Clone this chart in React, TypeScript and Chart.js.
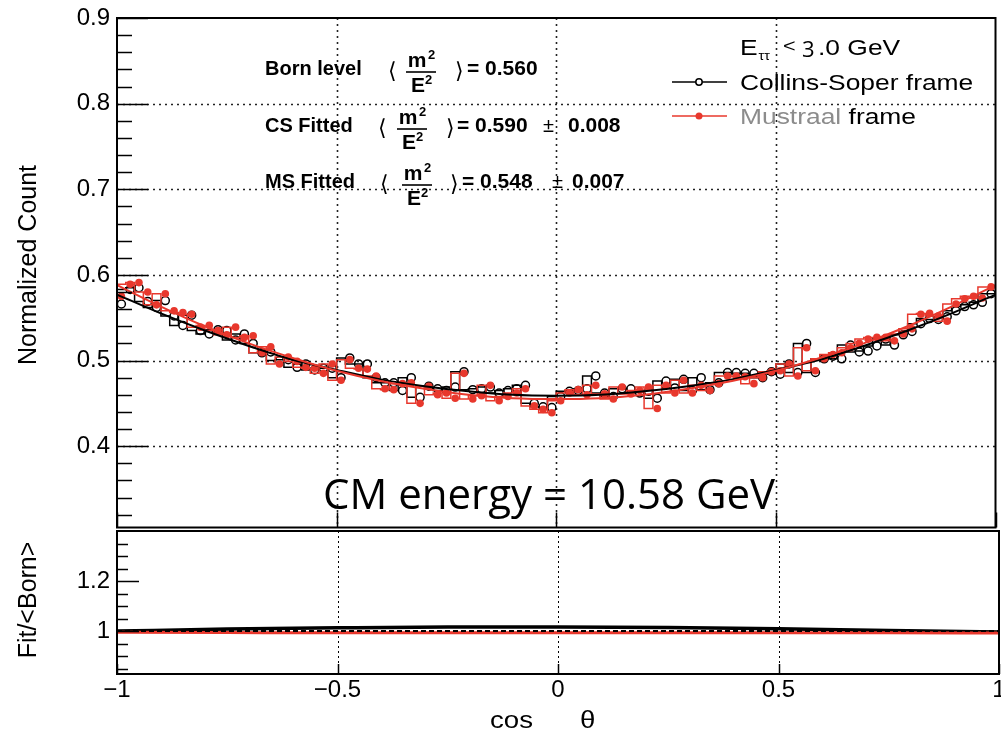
import React, { useEffect, useRef } from "react";
import { Chart, registerables } from "chart.js";

Chart.register(...registerables);

// ---------------- data ----------------
const cosThetaRange = [-1, 1];

// Collins-Soper frame histogram (100 bins in cos theta)
const csCounts = [
  0.566, 0.583, 0.585, 0.569, 0.562, 0.570, 0.552, 0.541, 0.553, 0.535,
  0.531, 0.536, 0.535, 0.524, 0.531, 0.520, 0.509, 0.510, 0.500, 0.501,
  0.492, 0.496, 0.489, 0.491, 0.491, 0.480, 0.503, 0.496, 0.496, 0.480,
  0.474, 0.474, 0.465, 0.480, 0.457, 0.470, 0.467, 0.465, 0.469, 0.487,
  0.466, 0.467, 0.469, 0.462, 0.465, 0.467, 0.471, 0.450, 0.446, 0.445,
  0.458, 0.464, 0.465, 0.467, 0.482, 0.462, 0.458, 0.467, 0.467, 0.462,
  0.464, 0.456, 0.476, 0.468, 0.478, 0.465, 0.480, 0.466, 0.474, 0.486,
  0.486, 0.485, 0.485, 0.480, 0.487, 0.484, 0.496, 0.486, 0.520, 0.486,
  0.502, 0.505, 0.502, 0.518, 0.510, 0.511, 0.517, 0.525, 0.518, 0.530,
  0.534, 0.543, 0.549, 0.548, 0.551, 0.558, 0.563, 0.565, 0.568, 0.578,
];

// Mustraal frame histogram
const msCounts = [
  0.575, 0.589, 0.591, 0.580, 0.565, 0.578, 0.558, 0.556, 0.554, 0.539,
  0.541, 0.535, 0.530, 0.539, 0.527, 0.529, 0.509, 0.516, 0.496, 0.504,
  0.499, 0.492, 0.491, 0.485, 0.496, 0.477, 0.501, 0.491, 0.490, 0.482,
  0.467, 0.466, 0.473, 0.474, 0.450, 0.470, 0.460, 0.462, 0.456, 0.485,
  0.455, 0.459, 0.471, 0.453, 0.458, 0.462, 0.467, 0.447, 0.443, 0.439,
  0.453, 0.462, 0.466, 0.460, 0.471, 0.461, 0.455, 0.469, 0.461, 0.465,
  0.469, 0.444, 0.471, 0.462, 0.477, 0.462, 0.471, 0.465, 0.473, 0.482,
  0.482, 0.481, 0.473, 0.480, 0.487, 0.488, 0.496, 0.482, 0.515, 0.488,
  0.502, 0.507, 0.509, 0.515, 0.520, 0.525, 0.527, 0.527, 0.523, 0.531,
  0.537, 0.554, 0.555, 0.552, 0.546, 0.566, 0.572, 0.575, 0.573, 0.586,
];

// fit curves
const fitCos = [-1, -0.9, -0.8, -0.7, -0.6, -0.5, -0.4, -0.3, -0.2, -0.1, 0, 0.1, 0.2, 0.3, 0.4, 0.5, 0.6, 0.7, 0.8, 0.9, 1];
const csFit = [0.577, 0.555, 0.535, 0.517, 0.501, 0.489, 0.478, 0.470, 0.464, 0.460, 0.459, 0.460, 0.464, 0.470, 0.478, 0.489, 0.501, 0.517, 0.535, 0.555, 0.577];
const msFit = [0.588, 0.563, 0.540, 0.520, 0.503, 0.488, 0.476, 0.467, 0.460, 0.456, 0.455, 0.456, 0.460, 0.467, 0.476, 0.488, 0.503, 0.520, 0.540, 0.563, 0.588];

// ratio pad (Fit / <Born>)
const ratioCos = [-1, -0.75, -0.5, -0.25, 0, 0.25, 0.5, 0.75, 1];
const csRatio = [1.001, 1.009, 1.014, 1.017, 1.017, 1.015, 1.010, 1.003, 0.997];
const msRatio = [0.996, 0.995, 0.994, 0.994, 0.994, 0.994, 0.994, 0.994, 0.993];

// axis ticks
const xTickValues = [-1, -0.5, 0, 0.5, 1];
const countTickValues = [0.4, 0.5, 0.6, 0.7, 0.8, 0.9];
const ratioTickValues = [1, 1.2];

// texts
const meanLabels = ["Born level", "CS Fitted", "MS Fitted"];
const meanValues = ["0.560", "0.590", "0.548"];
const meanErrors = ["", "0.008", "0.007"];
const legendLabels = ["Collins-Soper frame", "Mustraal frame"];
const cmEnergyText = "CM energy = 10.58 GeV";

// ---------------- style ----------------
const RED = "#e8382d";
const SANS = '"Liberation Sans", Arial, Helvetica, sans-serif';

const nBins = csCounts.length;
const binW = (cosThetaRange[1] - cosThetaRange[0]) / nBins;
const stepData = (vals: number[]) => {
  const pts = vals.map((v, i) => ({ x: cosThetaRange[0] + i * binW, y: v }));
  pts.push({ x: cosThetaRange[1], y: vals[vals.length - 1] });
  return pts;
};
const centerData = (vals: number[]) => vals.map((v, i) => ({ x: cosThetaRange[0] + (i + 0.5) * binW, y: v }));
const xyData = (xs: number[], ys: number[]) => xs.map((x, i) => ({ x, y: ys[i] }));

function txt(ctx: CanvasRenderingContext2D, s: string, x: number, y: number, font: string, color = "#000", sx = 1, align: CanvasTextAlign = "left") {
  ctx.save();
  ctx.font = font;
  ctx.fillStyle = color;
  ctx.textAlign = align;
  ctx.textBaseline = "alphabetic";
  ctx.translate(x, y);
  ctx.scale(sx, 1);
  ctx.fillText(s, 0, 0);
  const w = ctx.measureText(s).width * sx;
  ctx.restore();
  return w;
}
function seg(ctx: CanvasRenderingContext2D, x1: number, y1: number, x2: number, y2: number) {
  ctx.beginPath();
  ctx.moveTo(x1, y1);
  ctx.lineTo(x2, y2);
  ctx.stroke();
}

const fmtX = (v: number) => (v < 0 ? "\u2212" + String(Math.abs(v)) : String(v));

// ---------------- plugins ----------------
const topDecor = {
  id: "topDecor",
  beforeDatasetsDraw(chart: any) {
    const { ctx, chartArea: a, scales } = chart;
    const x = scales.x, y = scales.y;
    ctx.save();
    ctx.strokeStyle = "#222";
    ctx.lineWidth = 1.6;
    ctx.setLineDash([2, 4]);
    countTickValues.slice(0, -1).forEach((v) => {
      const py = Math.round(y.getPixelForValue(v)) + 0.5;
      seg(ctx, a.left, py, a.right, py);
    });
    xTickValues.slice(1, -1).forEach((v) => {
      const px = Math.round(x.getPixelForValue(v)) + 0.5;
      seg(ctx, px, a.top, px, a.bottom);
    });
    ctx.restore();
  },
  afterDatasetsDraw(chart: any) {
    const { ctx, chartArea: a, scales } = chart;
    const x = scales.x, y = scales.y;
    ctx.save();
    ctx.strokeStyle = "#000";
    ctx.lineWidth = 1.5;
    for (let i = 16; i <= 45; i++) {
      const v = i * 0.02;
      const py = Math.round(y.getPixelForValue(v)) + 0.5;
      if (py < a.top || py > a.bottom) continue;
      const len = i % 5 === 0 ? 31 : 15;
      seg(ctx, a.left, py, a.left + len, py);
    }
    xTickValues.forEach((v) => {
      const px = Math.round(x.getPixelForValue(v)) + 0.5;
      seg(ctx, px, a.bottom, px, a.bottom - 15);
    });
    ctx.lineWidth = 2;
    ctx.strokeRect(a.left, a.top, a.right - a.left, a.bottom - a.top);
    ctx.restore();
  },
  afterDraw(chart: any) {
    const { ctx } = chart;
    ctx.save();
    // y title
    ctx.save();
    ctx.translate(36, 265);
    ctx.rotate(-Math.PI / 2);
    ctx.font = `25px ${SANS}`;
    ctx.fillStyle = "#000";
    ctx.textAlign = "center";
    ctx.fillText("Normalized Count", 0, 0);
    ctx.restore();

    // mean annotations
    const base = [75, 132, 188];
    const openX = [388, 378, 380];
    const fracC = [421, 412, 417];
    const closeX = [455, 446, 450];
    const eqX = [467, 457, 462];
    const pmX = [0, 543, 552];
    const errX = [0, 568, 572];
    const bold = `bold 20px ${SANS}`;
    meanLabels.forEach((lab, r) => {
      const b = base[r];
      txt(ctx, lab, 265, b, bold);
      txt(ctx, "\u27E8", openX[r], b + 3, `22px "DejaVu Sans"`);
      txt(ctx, "\u27E9", closeX[r], b + 3, `22px "DejaVu Sans"`);
      const fc = fracC[r];
      txt(ctx, "m", fc - 4, b - 8, `bold 21px ${SANS}`, "#000", 1, "center");
      txt(ctx, "2", fc + 7, b - 16, `bold 13px ${SANS}`);
      txt(ctx, "E", fc - 3, b + 17, `bold 21px ${SANS}`, "#000", 1, "center");
      txt(ctx, "2", fc + 4, b + 9, `bold 13px ${SANS}`);
      ctx.strokeStyle = "#000";
      ctx.lineWidth = 1.6;
      seg(ctx, fc - 15, b - 3, fc + 15, b - 3);
      txt(ctx, "= " + meanValues[r], eqX[r], b, `bold 21px ${SANS}`);
      if (meanErrors[r]) {
        txt(ctx, "\u00B1", pmX[r], b, `20px ${SANS}`);
        txt(ctx, meanErrors[r], errX[r], b, `bold 21px ${SANS}`);
      }
    });

    // legend
    const lf = `22px ${SANS}`;
    let cx = 740;
    cx += txt(ctx, "E", cx, 55, lf, "#000", 1.2);
    txt(ctx, "\u03C4\u03C4", cx + 1, 60, `13px ${SANS}`, "#000", 1.1);
    txt(ctx, "<", 783, 52, `18px ${SANS}`, "#000", 1.2);
    txt(ctx, "3", 802, 57, `21px "Open Sans"`, "#000", 1.05);
    txt(ctx, ".0 GeV", 818, 55, lf, "#000", 1.2);

    ctx.strokeStyle = "#000";
    ctx.lineWidth = 1.5;
    seg(ctx, 672, 82, 727, 82);
    ctx.beginPath();
    ctx.arc(699, 82, 3.2, 0, Math.PI * 2);
    ctx.fillStyle = "#fff";
    ctx.fill();
    ctx.stroke();
    txt(ctx, legendLabels[0], 740, 90, lf, "#000", 1.2);

    ctx.strokeStyle = RED;
    seg(ctx, 672, 116, 727, 116);
    ctx.beginPath();
    ctx.arc(699, 116, 3.5, 0, Math.PI * 2);
    ctx.fillStyle = RED;
    ctx.fill();
    const parts = legendLabels[1].split(" ");
    const w1 = txt(ctx, parts[0], 740, 124, lf, "#8c8c8c", 1.2);
    txt(ctx, " " + parts[1], 740 + w1, 124, lf, "#000", 1.2);

    // CM energy
    txt(ctx, cmEnergyText, 323, 509, `42px "Open Sans"`, "#000");
    ctx.restore();
  },
};

const bottomDecor = {
  id: "bottomDecor",
  beforeDatasetsDraw(chart: any) {
    const { ctx, chartArea: a, scales } = chart;
    const x = scales.x;
    ctx.save();
    ctx.strokeStyle = "#000";
    ctx.lineWidth = 1;
    ctx.setLineDash([2, 3]);
    xTickValues.slice(1, -1).forEach((v) => {
      const px = Math.round(x.getPixelForValue(v)) + 0.5;
      seg(ctx, px, a.top, px, a.bottom);
    });
    ctx.restore();
  },
  afterDatasetsDraw(chart: any) {
    const { ctx, chartArea: a, scales } = chart;
    const x = scales.x, y = scales.y;
    ctx.save();
    ctx.strokeStyle = "#000";
    ctx.lineWidth = 2;
    ctx.setLineDash([5, 3]);
    const p1 = Math.round(y.getPixelForValue(1));
    seg(ctx, a.left, p1, a.right, p1);
    ctx.setLineDash([]);
    ctx.lineWidth = 1.5;
    for (let i = 17; i <= 28; i++) {
      const v = i * 0.05;
      const py = Math.round(y.getPixelForValue(v)) + 0.5;
      if (py < a.top + 1 || py > a.bottom - 1) continue;
      const len = i % 4 === 0 ? 22 : 11;
      seg(ctx, a.left, py, a.left + len, py);
    }
    xTickValues.forEach((v) => {
      const px = Math.round(x.getPixelForValue(v)) + 0.5;
      seg(ctx, px, a.bottom, px, a.bottom - 10);
    });
    ctx.lineWidth = 2;
    ctx.strokeRect(a.left, a.top, a.right - a.left, a.bottom - a.top);
    ctx.restore();
  },
  afterDraw(chart: any) {
    const { ctx } = chart;
    ctx.save();
    ctx.translate(36, 80);
    ctx.rotate(-Math.PI / 2);
    ctx.font = `25px ${SANS}`;
    ctx.fillStyle = "#000";
    ctx.textAlign = "center";
    ctx.fillText("Fit/<Born>", 0, 0);
    ctx.restore();
    txt(ctx, "cos", 490, 208, `24px ${SANS}`, "#000", 1.15);
    txt(ctx, "\u03B8", 580, 208, `24px ${SANS}`, "#000", 1.15);
  },
};

const tickFont = { family: SANS, size: 24 };

export default function App() {
  const topRef = useRef<HTMLCanvasElement | null>(null);
  const botRef = useRef<HTMLCanvasElement | null>(null);

  useEffect(() => {
    if (!topRef.current || !botRef.current) return;
    const top = new Chart(topRef.current, {
      type: "line",
      data: {
        datasets: [
          { label: "CS hist", data: stepData(csCounts), stepped: "after", borderColor: "#000", borderWidth: 1.5, pointRadius: 0, fill: false, order: 6 },
          { label: "CS", data: centerData(csCounts), showLine: false, pointRadius: 4, pointBorderWidth: 1.5, pointBorderColor: "#000", pointBackgroundColor: "rgba(0,0,0,0)", order: 5 },
          { label: "MS hist", data: stepData(msCounts), stepped: "after", borderColor: RED, borderWidth: 1.5, pointRadius: 0, fill: false, order: 4 },
          { label: "MS", data: centerData(msCounts), showLine: false, pointRadius: 3.8, pointBorderWidth: 0, pointBackgroundColor: RED, order: 3 },
          { label: "CS fit", data: xyData(fitCos, csFit), borderColor: "#000", borderWidth: 2, pointRadius: 0, cubicInterpolationMode: "monotone", fill: false, order: 2 },
          { label: "MS fit", data: xyData(fitCos, msFit), borderColor: RED, borderWidth: 2, pointRadius: 0, cubicInterpolationMode: "monotone", fill: false, order: 1 },
        ] as any,
      },
      options: {
        responsive: false,
        animation: false,
        devicePixelRatio: 1,
        events: [],
        layout: { padding: { top: 18, right: 2, bottom: 2, left: 0 } },
        plugins: { legend: { display: false }, tooltip: { enabled: false } },
        scales: {
          x: { type: "linear", min: cosThetaRange[0], max: cosThetaRange[1], display: false },
          y: {
            type: "linear",
            min: 0.305,
            max: 0.9,
            afterBuildTicks: (s: any) => { s.ticks = countTickValues.map((v) => ({ value: v })); },
            afterFit: (s: any) => { s.width = 117; s.paddingTop = 0; s.paddingBottom = 0; },
            grid: { display: false, drawTicks: false },
            border: { display: false },
            ticks: { font: tickFont, color: "#000", padding: 7, callback: (v: any) => Number(v).toFixed(1) },
          },
        },
      } as any,
      plugins: [topDecor],
    });

    const bot = new Chart(botRef.current, {
      type: "line",
      data: {
        datasets: [
          { label: "CS ratio", data: xyData(ratioCos, csRatio), borderColor: "#000", borderWidth: 3.5, pointRadius: 0, cubicInterpolationMode: "monotone", fill: false, order: 2 },
          { label: "MS ratio", data: xyData(ratioCos, msRatio), borderColor: RED, borderWidth: 3, pointRadius: 0, cubicInterpolationMode: "monotone", fill: false, order: 1 },
        ] as any,
      },
      options: {
        responsive: false,
        animation: false,
        devicePixelRatio: 1,
        events: [],
        layout: { padding: { top: 11, right: 2, bottom: 0, left: 0 } },
        plugins: { legend: { display: false }, tooltip: { enabled: false } },
        scales: {
          x: {
            type: "linear",
            min: cosThetaRange[0],
            max: cosThetaRange[1],
            afterBuildTicks: (s: any) => { s.ticks = xTickValues.map((v) => ({ value: v })); },
            afterFit: (s: any) => { s.height = 60; s.paddingLeft = 0; s.paddingRight = 0; },
            grid: { display: false, drawTicks: false },
            border: { display: false },
            ticks: { autoSkip: false, maxRotation: 0, minRotation: 0, font: tickFont, color: "#000", padding: 2, callback: (v: any) => fmtX(Number(v)) },
          },
          y: {
            type: "linear",
            min: 0.83,
            max: 1.4,
            afterBuildTicks: (s: any) => { s.ticks = ratioTickValues.map((v) => ({ value: v })); },
            afterFit: (s: any) => { s.width = 117; s.paddingTop = 0; s.paddingBottom = 0; },
            grid: { display: false, drawTicks: false },
            border: { display: false },
            ticks: { font: tickFont, color: "#000", padding: 7, callback: (v: any) => (Number(v) === 1 ? "1" : Number(v).toFixed(1)) },
          },
        },
      } as any,
      plugins: [bottomDecor],
    });

    return () => {
      top.destroy();
      bot.destroy();
    };
  }, []);

  return (
    <div style={{ position: "absolute", left: 0, top: 0, width: 1001, height: 734, background: "#fff", overflow: "hidden" }}>
      <canvas ref={topRef} width={1001} height={533} style={{ position: "absolute", left: 0, top: 0, width: 1001, height: 533 }} />
      <canvas ref={botRef} width={1001} height={214} style={{ position: "absolute", left: 0, top: 520, width: 1001, height: 214 }} />
    </div>
  );
}
